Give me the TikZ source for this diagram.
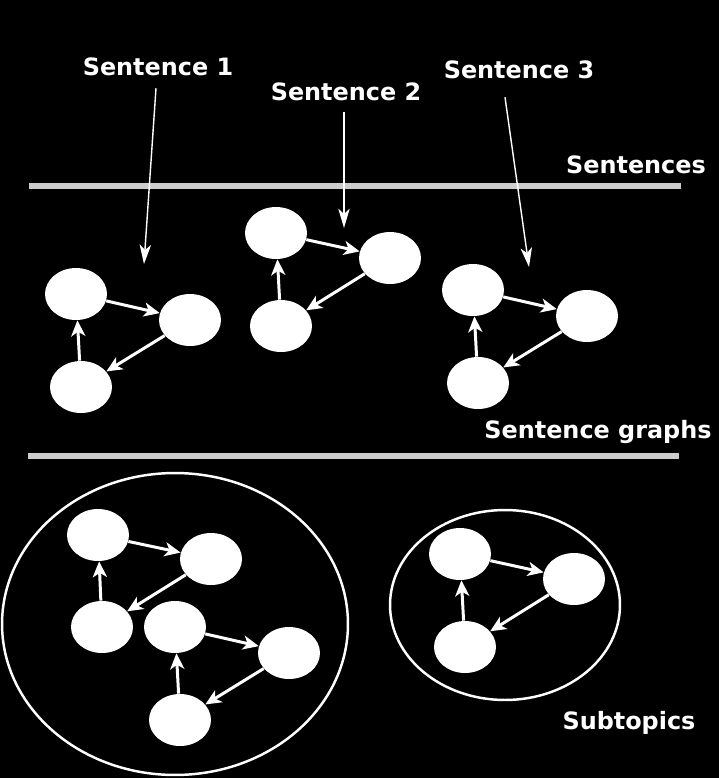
\documentclass[tikz,border=0pt]{standalone}
\usepackage{fontspec}
\setmainfont{DejaVu Sans}
\usetikzlibrary{shapes.geometric,arrows.meta}

\begin{document}
\begin{tikzpicture}[%
          x=0.02cm, y=-0.02cm,
          vertex/.style={ellipse,fill=white,draw=none,inner sep=0pt,
                         minimum width=1.24cm,minimum height=1.04cm},
          edge/.style={draw=white,line width=1.7pt,-{Stealth[length=9pt,width=8pt,inset=2.5pt]}},
          pointer/.style={draw=white,line width=0.8pt,-{Stealth[length=11pt,width=6.5pt,inset=3pt]}},
          rule/.style={draw=black!20,line width=3.6pt},
          group/.style={ellipse,draw=white,line width=1.4pt,inner sep=0pt},
          caption/.style={text=white,font=\fontsize{13.6}{15}\selectfont\bfseries}]

  % background and bounding box
  \fill[black] (0,0) rectangle (719,778);
  \useasboundingbox (0,0) rectangle (719,778);

  % labels
  \node[caption] (lab1) at (158,67) {Sentence 1};
  \node[caption] (lab2) at (346,92) {Sentence 2};
  \node[caption] (lab3) at (519,70) {Sentence 3};
  \node[caption] (sent) at (636,165) {Sentences};
  \node[caption] (graphs) at (598,432) {Sentence graphs};
  \node[caption] (subt) at (629,723) {Subtopics};

  % separators
  \coordinate (r1a) at (29,186);
  \coordinate (r1b) at (681,186);
  \coordinate (r2a) at (28,456);
  \coordinate (r2b) at (679,456);
  \draw[rule] (r1a) -- (r1b);
  \draw[rule] (r2a) -- (r2b);

  % pointer targets
  \coordinate (p1) at (144,264);
  \coordinate (p2) at (344,228);
  \coordinate (p3) at (529,267);
  \draw[pointer] (lab1.south) ++(-2,6) -- (p1);
  \draw[pointer] (lab2.south) ++(-2,5) -- (p2);
  \draw[pointer] (lab3.south) ++(-14,12) -- (p3);

  % sentence graph 1
  \node[vertex] (g1a) at (76,294) {};
  \node[vertex] (g1b) at (190,320) {};
  \node[vertex] (g1c) at (81,387) {};
  \draw[edge] (g1a) -- (g1b);
  \draw[edge] (g1b) -- (g1c);
  \draw[edge] (g1c) -- (g1a);

  % sentence graph 2
  \node[vertex] (g2a) at (276,233) {};
  \node[vertex] (g2b) at (390,258) {};
  \node[vertex] (g2c) at (281,326) {};
  \draw[edge] (g2a) -- (g2b);
  \draw[edge] (g2b) -- (g2c);
  \draw[edge] (g2c) -- (g2a);

  % sentence graph 3
  \node[vertex] (g3a) at (473,290) {};
  \node[vertex] (g3b) at (587,316) {};
  \node[vertex] (g3c) at (478,383) {};
  \draw[edge] (g3a) -- (g3b);
  \draw[edge] (g3b) -- (g3c);
  \draw[edge] (g3c) -- (g3a);

  % subtopic 1
  \node[group,minimum width=6.92cm,minimum height=6.04cm] (top1) at (175,624) {};
  \node[vertex] (t1a) at (98,535) {};
  \node[vertex] (t1b) at (211,559) {};
  \node[vertex] (t1c) at (102,627) {};
  \node[vertex] (t1d) at (175,627) {};
  \node[vertex] (t1e) at (289,653) {};
  \node[vertex] (t1f) at (180,720) {};
  \draw[edge] (t1a) -- (t1b);
  \draw[edge] (t1b) -- (t1c);
  \draw[edge] (t1c) -- (t1a);
  \draw[edge] (t1d) -- (t1e);
  \draw[edge] (t1e) -- (t1f);
  \draw[edge] (t1f) -- (t1d);

  % subtopic 2
  \node[group,minimum width=4.6cm,minimum height=3.8cm] (top2) at (505,605) {};
  \node[vertex] (t2a) at (460,554) {};
  \node[vertex] (t2b) at (574,579) {};
  \node[vertex] (t2c) at (465,647) {};
  \draw[edge] (t2a) -- (t2b);
  \draw[edge] (t2b) -- (t2c);
  \draw[edge] (t2c) -- (t2a);

\end{tikzpicture}
\end{document}
